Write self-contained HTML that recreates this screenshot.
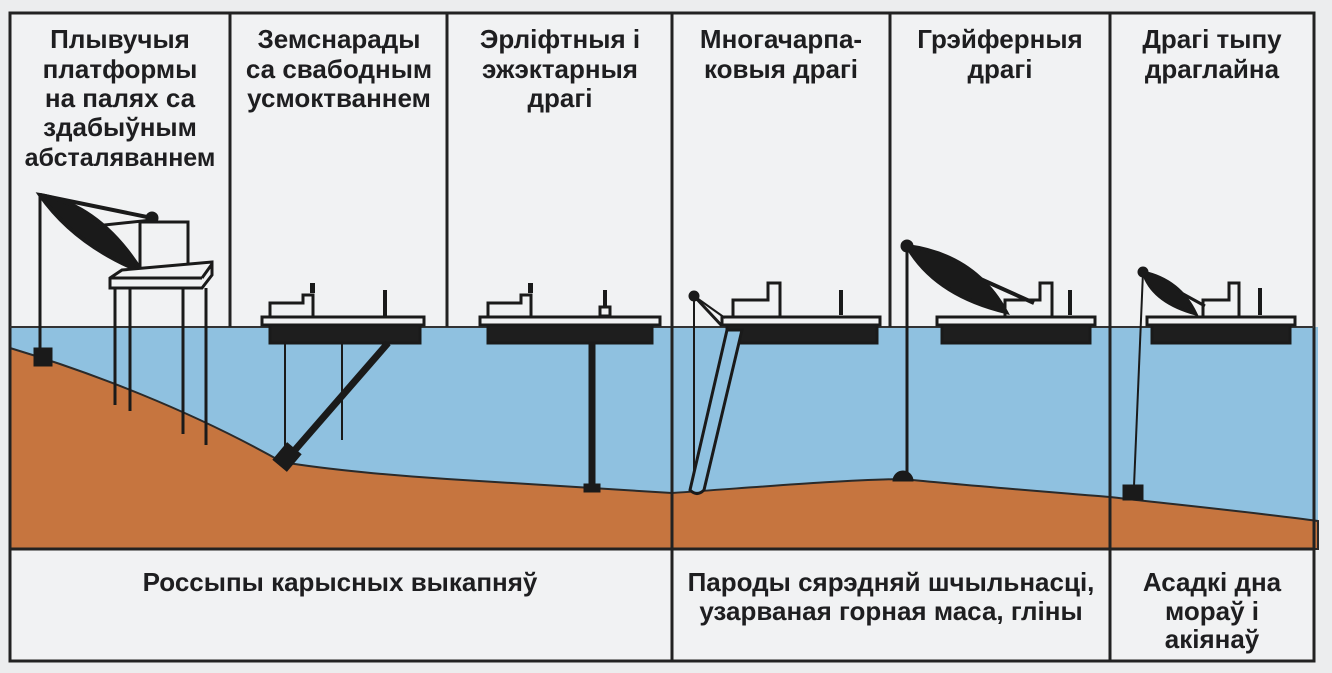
<!DOCTYPE html>
<html><head><meta charset="utf-8">
<style>
html,body{margin:0;padding:0;background:#ecedee;}
svg{display:block}
text{font-family:"Liberation Sans","DejaVu Sans",sans-serif;font-weight:bold;fill:#1e1e20;}
</style></head>
<body>
<svg width="1332" height="673" viewBox="0 0 1332 673" xmlns="http://www.w3.org/2000/svg">
<rect x="0" y="0" width="1332" height="673" fill="#ecedee"/>
<rect x="10" y="13" width="1304" height="648" fill="#f1f2f3"/>
<rect x="10" y="327" width="1308" height="222" fill="#8fc1e0"/>
<path d="M10,348 C90,372 190,410 282,462 C330,470 400,476 447,479 C520,484 600,488 672,493 C760,487 840,480 903,479 C960,485 1050,492 1110,497 C1180,505 1260,513 1318,521 L1318,549 L10,549 Z" fill="#c6753f" stroke="#2a2a2a" stroke-width="2"/>
<rect x="10" y="13" width="1304" height="648" fill="none" stroke="#222" stroke-width="3"/>
<line x1="10" y1="327" x2="1314" y2="327" stroke="#333" stroke-width="2"/>
<line x1="10" y1="549" x2="1314" y2="549" stroke="#222" stroke-width="3"/>
<g stroke="#222" stroke-width="3">
<line x1="230" y1="13" x2="230" y2="327"/>
<line x1="447" y1="13" x2="447" y2="327"/>
<line x1="672" y1="13" x2="672" y2="661"/>
<line x1="890" y1="13" x2="890" y2="327"/>
<line x1="1110" y1="13" x2="1110" y2="661"/>
</g>
<g stroke="#1a1a1a" fill="none">
<line x1="40" y1="195" x2="40" y2="350" stroke-width="3"/>
<rect x="34" y="348" width="18" height="18" fill="#1a1a1a"/>
<line x1="40" y1="195" x2="152" y2="218" stroke-width="4"/>
<line x1="95" y1="226" x2="152" y2="220" stroke-width="3"/>
<path d="M40,195 Q100,205 142,272 Q75,245 40,195Z" fill="#1a1a1a" stroke-width="4"/>
<circle cx="152" cy="218" r="6" fill="#1a1a1a"/>
<rect x="140" y="222" width="48" height="48" fill="#f1f2f3" stroke-width="3"/>
<path d="M110,278 L122,270 L212,262 L212,275 L202,288 L110,288 Z" fill="#f1f2f3" stroke-width="3"/>
<line x1="110" y1="278" x2="202" y2="278" stroke-width="3"/>
<line x1="202" y1="278" x2="212" y2="264" stroke-width="3"/>
<g stroke-width="3"><line x1="115" y1="288" x2="115" y2="405"/><line x1="130" y1="288" x2="130" y2="411"/><line x1="183" y1="288" x2="183" y2="434"/><line x1="206" y1="288" x2="206" y2="445"/></g>
</g>
<g stroke="#1a1a1a" stroke-width="3" fill="#f1f2f3">
<path d="M270,317 V303 H303 V295 H313 V317"/><rect x="310" y="283" width="5" height="10" fill="#1a1a1a" stroke="none"/>
<line x1="385" y1="290" x2="385" y2="316" stroke-width="4"/>
<rect x="262" y="317" width="162" height="8"/>
<rect x="270" y="325" width="150" height="18" fill="#1e1e1e"/>
<path d="M488,317 V303 H521 V295 H531 V317"/><rect x="528" y="283" width="5" height="10" fill="#1a1a1a" stroke="none"/>
<rect x="600" y="307" width="10" height="9" fill="#f1f2f3"/>
<line x1="605" y1="290" x2="605" y2="307" stroke-width="4"/>
<rect x="480" y="317" width="180" height="8"/>
<rect x="488" y="325" width="164" height="18" fill="#1e1e1e"/>
<path d="M733,317 V300 H768 V283 H780 V317"/>
<line x1="841" y1="290" x2="841" y2="315" stroke-width="4"/>
<rect x="722" y="317" width="158" height="8"/>
<rect x="727" y="325" width="150" height="18" fill="#1e1e1e"/>
<path d="M1005,317 V300 H1040 V283 H1052 V317"/>
<line x1="1070" y1="290" x2="1070" y2="315" stroke-width="4"/>
<rect x="937" y="317" width="158" height="8"/>
<rect x="942" y="325" width="148" height="18" fill="#1e1e1e"/>
<path d="M1203,317 V300 H1229 V283 H1239 V317"/>
<line x1="1260" y1="288" x2="1260" y2="315" stroke-width="4"/>
<rect x="1147" y="317" width="148" height="8"/>
<rect x="1152" y="325" width="138" height="18" fill="#1e1e1e"/>
</g>
<g stroke="#1a1a1a" fill="none">
<line x1="285" y1="343" x2="285" y2="462" stroke-width="2"/>
<line x1="342" y1="343" x2="342" y2="440" stroke-width="2"/>
<line x1="388" y1="343" x2="288" y2="458" stroke-width="7"/>
<rect x="278" y="446" width="18" height="22" fill="#1a1a1a" transform="rotate(40 287 457)"/>
<line x1="592" y1="343" x2="592" y2="487" stroke-width="7"/>
<rect x="584" y="484" width="16" height="8" fill="#1a1a1a"/>
<line x1="694" y1="296" x2="694" y2="492" stroke-width="2"/>
<line x1="694" y1="296" x2="725" y2="318" stroke-width="2"/>
<line x1="694" y1="296" x2="722" y2="326" stroke-width="3"/>
<circle cx="694" cy="296" r="5" fill="#1a1a1a"/>
<path d="M727,330 L742,330 L704,490 Q697,497 690,490 Z" fill="#8fc1e0" stroke-width="3"/>
<line x1="907" y1="246" x2="907" y2="474" stroke-width="3"/>
<path d="M893,481 A10,10 0 0 1 913,481 Z" fill="#1a1a1a"/>
<line x1="907" y1="246" x2="1034" y2="303" stroke-width="4"/>
<path d="M907,246 Q975,255 1006,312 Q935,295 907,246Z" fill="#1a1a1a" stroke-width="4"/>
<circle cx="907" cy="246" r="6" fill="#1a1a1a"/>
<line x1="1143" y1="272" x2="1205" y2="306" stroke-width="3"/>
<path d="M1143,272 Q1180,280 1196,314 Q1152,302 1143,272Z" fill="#1a1a1a" stroke-width="3"/>
<circle cx="1143" cy="272" r="5" fill="#1a1a1a"/>
<path d="M1143,272 Q1138,400 1134,486" stroke-width="2"/>
<rect x="1123" y="485" width="20" height="15" fill="#1a1a1a"/>
</g>
<g font-size="26" text-anchor="middle">
<text x="120" y="48">Плывучыя</text>
<text x="120" y="78">платформы</text>
<text x="120" y="107">на палях са</text>
<text x="120" y="136">здабыўным</text>
<text x="120" y="166" font-size="25">абсталяваннем</text>
<text x="339" y="48">Земснарады</text>
<text x="339" y="78">са свабодным</text>
<text x="339" y="107">усмоктваннем</text>
<text x="560" y="48">Эрліфтныя і</text>
<text x="560" y="78">эжэктарныя</text>
<text x="560" y="107">драгі</text>
<text x="781" y="48">Многачарпа-</text>
<text x="781" y="78">ковыя драгі</text>
<text x="1000" y="48">Грэйферныя</text>
<text x="1000" y="78">драгі</text>
<text x="1212" y="48">Драгі тыпу</text>
<text x="1212" y="78">драглайна</text>
</g>
<g font-size="26" text-anchor="middle">
<text x="340" y="591">Россыпы карысных выкапняў</text>
<text x="891" y="591">Пароды сярэдняй шчыльнасці,</text>
<text x="891" y="620">узарваная горная маса, гліны</text>
<text x="1212" y="591">Асадкі дна</text>
<text x="1212" y="620">мораў і</text>
<text x="1212" y="648">акіянаў</text>
</g>
</svg>
</body></html>
